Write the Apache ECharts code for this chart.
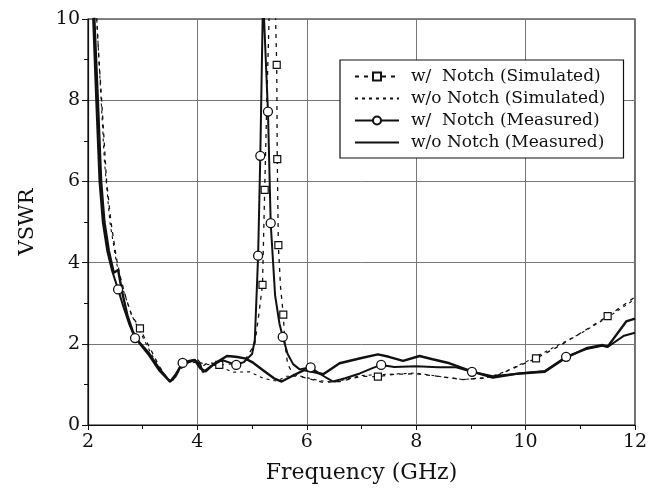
<!DOCTYPE html>
<html>
<head>
<meta charset="utf-8">
<script src="https://cdn.jsdelivr.net/npm/echarts@6/dist/echarts.min.js"></script>
<style>
  html, body { margin: 0; padding: 0; background: #fff; }
  #chart { width: 657px; height: 493px; }
</style>
</head>
<body>
<div id="chart"></div>
<script>
// series names as printed in the legend
var seriesNames = [
  'w/  Notch (Simulated)',
  'w/o Notch (Simulated)',
  'w/  Notch (Measured)',
  'w/o Notch (Measured)'
];

// [frequency GHz, VSWR]
var wNotchSim = [
  [2.14, 10.5], [2.2, 9], [2.25, 8], [2.34, 6], [2.42, 5], [2.52, 4.1], [2.6, 3.6],
  [2.7, 3.1], [2.8, 2.7], [2.95, 2.38], [3.05, 2.1], [3.15, 1.85], [3.3, 1.45],
  [3.45, 1.15], [3.55, 1.1], [3.7, 1.4], [3.85, 1.55], [4.0, 1.62], [4.1, 1.45],
  [4.2, 1.55], [4.4, 1.48], [4.6, 1.5], [4.85, 1.55], [5.05, 2.0], [5.12, 2.7],
  [5.19, 3.45], [5.23, 5.79], [5.27, 8], [5.32, 10.5], [5.42, 10.5], [5.45, 8.87],
  [5.46, 6.55], [5.48, 4.43], [5.52, 3.4], [5.57, 2.72], [5.6, 2.0], [5.65, 1.5],
  [5.75, 1.25], [6.0, 1.15], [6.3, 1.05], [6.6, 1.07], [7.0, 1.2], [7.3, 1.19],
  [7.6, 1.25], [8.0, 1.26], [8.4, 1.2], [8.85, 1.12], [9.2, 1.15], [9.46, 1.21],
  [9.95, 1.5], [10.19, 1.64], [10.62, 1.95], [11.05, 2.3], [11.5, 2.68], [12, 3.15]
];
var wNotchSimMarks = [2.95, 4.4, 5.19, 5.23, 5.45, 5.46, 5.48, 5.57, 7.3, 10.19, 11.5];

var woNotchSim = [
  [2.14, 10.5], [2.22, 8.5], [2.3, 6.5], [2.4, 5], [2.52, 4], [2.65, 3.3], [2.8, 2.7],
  [2.95, 2.3], [3.1, 1.9], [3.3, 1.4], [3.5, 1.08], [3.65, 1.3], [3.8, 1.52],
  [4.0, 1.55], [4.15, 1.5], [4.4, 1.45], [4.65, 1.3], [4.96, 1.31], [5.2, 1.15],
  [5.45, 1.08], [5.63, 1.2], [5.9, 1.2], [6.2, 1.1], [6.5, 1.05], [7.0, 1.22],
  [7.5, 1.25], [8.0, 1.28], [8.4, 1.2], [8.85, 1.12], [9.3, 1.17], [9.6, 1.3],
  [10.0, 1.55], [10.5, 1.9], [11.0, 2.25], [11.5, 2.65], [12, 3.1]
];

var wNotchMeas = [
  [2.08, 10.5], [2.15, 8], [2.21, 6], [2.27, 5], [2.35, 4.3], [2.44, 3.8], [2.5, 3.55],
  [2.55, 3.34], [2.65, 2.9], [2.75, 2.5], [2.86, 2.14], [2.95, 2.02], [3.1, 1.8],
  [3.3, 1.4], [3.5, 1.07], [3.6, 1.25], [3.73, 1.53], [3.85, 1.55], [3.95, 1.6],
  [4.05, 1.5], [4.1, 1.3], [4.25, 1.45], [4.45, 1.6], [4.71, 1.48], [4.85, 1.55],
  [5.0, 1.75], [5.05, 2.1], [5.11, 4.17], [5.15, 6.63], [5.2, 10.6], [5.29, 7.72],
  [5.34, 4.97], [5.42, 3.2], [5.5, 2.5], [5.56, 2.17], [5.65, 1.75], [5.75, 1.5],
  [5.87, 1.37], [6.07, 1.42], [6.25, 1.25], [6.48, 1.07], [6.7, 1.15], [6.97, 1.27],
  [7.2, 1.4], [7.36, 1.48], [7.6, 1.43], [8.0, 1.45], [8.4, 1.42], [8.73, 1.42],
  [9.02, 1.31], [9.4, 1.2], [9.89, 1.27], [10.35, 1.33], [10.74, 1.68], [11.11, 1.87],
  [11.4, 1.95], [11.5, 1.92], [11.8, 2.2], [12, 2.27]
];
var wNotchMeasMarks = [2.55, 2.86, 3.73, 4.71, 5.11, 5.15, 5.29, 5.34, 5.56, 6.07, 7.36, 9.02, 10.74];

var woNotchMeas = [
  [2.1, 10.5], [2.18, 8], [2.24, 6], [2.3, 5], [2.38, 4.3], [2.47, 3.75], [2.55, 3.82],
  [2.62, 3.3], [2.72, 2.7], [2.82, 2.3], [2.95, 2.0], [3.1, 1.75], [3.3, 1.35],
  [3.5, 1.07], [3.6, 1.2], [3.72, 1.52], [3.85, 1.58], [3.95, 1.6], [4.05, 1.4],
  [4.15, 1.32], [4.3, 1.5], [4.54, 1.7], [4.7, 1.68], [4.87, 1.64], [5.0, 1.55],
  [5.2, 1.35], [5.4, 1.15], [5.54, 1.07], [5.75, 1.22], [5.95, 1.35], [6.15, 1.3],
  [6.3, 1.25], [6.6, 1.52], [7.0, 1.65], [7.3, 1.74], [7.5, 1.68], [7.76, 1.58],
  [8.06, 1.7], [8.3, 1.62], [8.61, 1.52], [9.04, 1.31], [9.4, 1.17], [9.89, 1.27],
  [10.35, 1.31], [10.74, 1.66], [11.11, 1.89], [11.41, 1.97], [11.5, 1.93],
  [11.84, 2.55], [12, 2.62]
];

var xTicks = [2, 4, 6, 8, 10, 12];
var yTicks = [0, 2, 4, 6, 8, 10];

var font = '"DejaVu Serif", "Liberation Serif", serif';
var ink = '#111';

// only the picked points get a marker
function withMarks (points, marks) {
  return points.map(function (p) {
    return marks.indexOf(p[0]) >= 0 ? { value: p } : { value: p, symbol: 'none' };
  });
}

var chart = echarts.init(document.getElementById('chart'), null, { renderer: 'canvas' });
chart.setOption({
  animation: false,
  backgroundColor: '#fff',
  grid: {
    left: 88,
    right: 22,
    top: 19,
    bottom: 68,
    outerBoundsMode: 'none',
    show: true,
    borderColor: ink,
    borderWidth: 1.2
  },
  legend: {
    orient: 'vertical',
    left: 340,
    top: 60,
    itemWidth: 44,
    itemHeight: 10,
    itemGap: 5,
    padding: [8, 18, 7, 14],
    borderColor: ink,
    borderWidth: 1.2,
    backgroundColor: '#fff',
    textStyle: { fontFamily: font, fontSize: 17, lineHeight: 17, color: ink, padding: [0, 0, 0, 7] },
    data: [
      { name: seriesNames[0] },
      { name: seriesNames[1], itemStyle: { opacity: 0 } },
      { name: seriesNames[2] },
      { name: seriesNames[3], itemStyle: { opacity: 0 } }
    ]
  },
  xAxis: {
    type: 'value',
    min: xTicks[0],
    max: xTicks[xTicks.length - 1],
    interval: 2,
    name: 'Frequency (GHz)',
    nameLocation: 'middle',
    nameGap: 37,
    nameTextStyle: { fontFamily: font, fontSize: 22, color: ink },
    axisLine: { onZero: false, lineStyle: { color: ink, width: 1.2 } },
    axisTick: { inside: false, length: 5, lineStyle: { color: ink } },
    minorTick: { show: true, splitNumber: 2, length: 4, lineStyle: { color: ink } },
    axisLabel: { fontFamily: font, fontSize: 19, color: ink, margin: 8 },
    splitLine: { show: true, lineStyle: { color: '#777', width: 1 } }
  },
  yAxis: {
    type: 'value',
    min: yTicks[0],
    max: yTicks[yTicks.length - 1],
    interval: 2,
    name: 'VSWR',
    nameLocation: 'middle',
    nameGap: 50,
    nameTextStyle: { fontFamily: font, fontSize: 21, color: ink },
    axisLine: { onZero: false, lineStyle: { color: ink, width: 1.2 } },
    axisTick: { length: 6, lineStyle: { color: ink } },
    minorTick: { show: true, splitNumber: 2, length: 4, lineStyle: { color: ink } },
    axisLabel: { fontFamily: font, fontSize: 19, color: ink, margin: 8 },
    splitLine: { show: true, lineStyle: { color: '#777', width: 1 } }
  },
  series: [
    {
      name: seriesNames[0],
      type: 'line',
      symbol: 'rect',
      symbolSize: 7,
      showSymbol: true,
      clip: true,
      z: 3,
      itemStyle: { color: '#fff', borderColor: ink, borderWidth: 1.2 },
      lineStyle: { color: ink, width: 1.3, type: [4, 5] },
      emphasis: { disabled: true },
      data: withMarks(wNotchSim, wNotchSimMarks)
    },
    {
      name: seriesNames[1],
      type: 'line',
      symbol: 'none',
      clip: true,
      z: 2,
      itemStyle: { color: ink },
      lineStyle: { color: ink, width: 1.1, type: [3, 4] },
      emphasis: { disabled: true },
      data: woNotchSim
    },
    {
      name: seriesNames[2],
      type: 'line',
      symbol: 'circle',
      symbolSize: 9,
      showSymbol: true,
      clip: true,
      z: 4,
      itemStyle: { color: '#fff', borderColor: ink, borderWidth: 1.3 },
      lineStyle: { color: ink, width: 2 },
      emphasis: { disabled: true },
      data: withMarks(wNotchMeas, wNotchMeasMarks)
    },
    {
      name: seriesNames[3],
      type: 'line',
      symbol: 'none',
      clip: true,
      z: 2,
      itemStyle: { color: ink },
      lineStyle: { color: ink, width: 2.4 },
      emphasis: { disabled: true },
      data: woNotchMeas
    }
  ]
});
</script>
</body>
</html>
